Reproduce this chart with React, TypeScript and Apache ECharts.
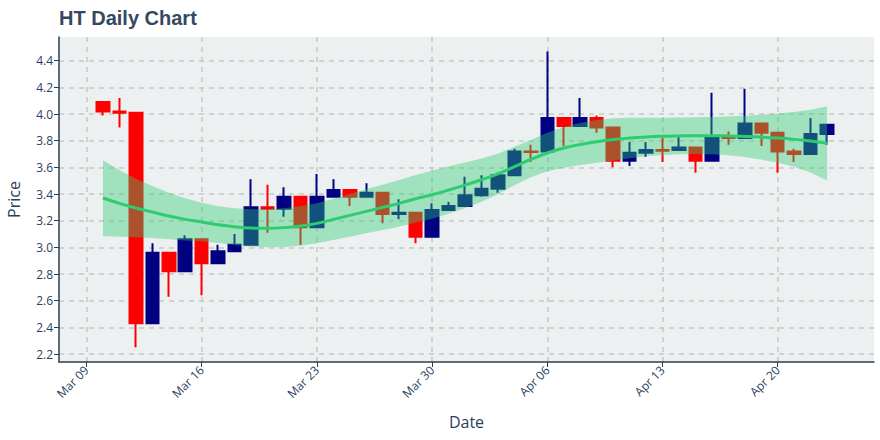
import React, { useEffect, useRef } from "react";
import * as echarts from "echarts";

const dates = [
  "2020-03-10", "2020-03-11", "2020-03-12", "2020-03-13", "2020-03-14", "2020-03-15", "2020-03-16",
  "2020-03-17", "2020-03-18", "2020-03-19", "2020-03-20", "2020-03-21", "2020-03-22", "2020-03-23",
  "2020-03-24", "2020-03-25", "2020-03-26", "2020-03-27", "2020-03-28", "2020-03-29", "2020-03-30",
  "2020-03-31", "2020-04-01", "2020-04-02", "2020-04-03", "2020-04-04", "2020-04-05", "2020-04-06",
  "2020-04-07", "2020-04-08", "2020-04-09", "2020-04-10", "2020-04-11", "2020-04-12", "2020-04-13",
  "2020-04-14", "2020-04-15", "2020-04-16", "2020-04-17", "2020-04-18", "2020-04-19", "2020-04-20",
  "2020-04-21", "2020-04-22", "2020-04-23",
];

const opens = [
  4.09, 4.02, 4.01, 2.43, 2.96, 2.82, 3.06, 2.88, 2.97, 3.02, 3.30, 3.29, 3.38, 3.15, 3.38,
  3.43, 3.38, 3.41, 3.25, 3.26, 3.08, 3.28, 3.31, 3.39, 3.44, 3.54, 3.72, 3.72, 3.97, 3.91,
  3.97, 3.90, 3.65, 3.71, 3.73, 3.73, 3.75, 3.65, 3.83, 3.82, 3.93, 3.86, 3.72, 3.70, 3.85,
];
const closes = [
  4.02, 4.01, 2.43, 2.96, 2.82, 3.06, 2.88, 2.97, 3.02, 3.30, 3.29, 3.38, 3.15, 3.38, 3.43,
  3.38, 3.41, 3.25, 3.26, 3.08, 3.28, 3.31, 3.39, 3.44, 3.54, 3.72, 3.715, 3.97, 3.91, 3.97,
  3.90, 3.65, 3.71, 3.73, 3.725, 3.75, 3.65, 3.83, 3.82, 3.93, 3.86, 3.72, 3.70, 3.85, 3.92,
];
const lows = [
  3.99, 3.90, 2.25, 2.43, 2.63, 2.82, 2.64, 2.88, 2.97, 3.02, 3.11, 3.23, 3.02, 3.15, 3.38,
  3.31, 3.38, 3.18, 3.21, 3.03, 3.08, 3.28, 3.31, 3.38, 3.41, 3.54, 3.64, 3.72, 3.76, 3.91,
  3.86, 3.60, 3.61, 3.68, 3.64, 3.73, 3.56, 3.65, 3.77, 3.82, 3.76, 3.56, 3.64, 3.70, 3.77,
];
const highs = [
  4.09, 4.12, 4.01, 3.03, 2.96, 3.09, 3.06, 3.02, 3.10, 3.51, 3.47, 3.45, 3.38, 3.55, 3.51,
  3.43, 3.48, 3.41, 3.36, 3.26, 3.33, 3.34, 3.53, 3.54, 3.56, 3.74, 3.77, 4.47, 3.97, 4.12,
  3.99, 3.90, 3.79, 3.79, 3.82, 3.83, 3.75, 4.16, 3.87, 4.19, 3.93, 3.86, 3.74, 3.97, 3.92,
];

const trend = [
  3.37, 3.33, 3.295, 3.265, 3.235, 3.21, 3.19, 3.17, 3.155, 3.145, 3.143, 3.148, 3.16, 3.18, 3.21,
  3.24, 3.27, 3.30, 3.33, 3.365, 3.395, 3.43, 3.467, 3.507, 3.552, 3.605, 3.66, 3.708, 3.745, 3.772,
  3.793, 3.809, 3.82, 3.828, 3.833, 3.836, 3.838, 3.838, 3.836, 3.832, 3.827, 3.82, 3.81, 3.797, 3.78,
];
const bandUpper = [
  3.654, 3.58, 3.515, 3.46, 3.41, 3.368, 3.335, 3.308, 3.293, 3.285, 3.285, 3.293, 3.308, 3.33, 3.365,
  3.40, 3.435, 3.47, 3.505, 3.543, 3.575, 3.608, 3.637, 3.667, 3.702, 3.755, 3.805, 3.86, 3.902, 3.933,
  3.955, 3.968, 3.972, 3.973, 3.973, 3.974, 3.976, 3.978, 3.981, 3.987, 3.995, 4.005, 4.015, 4.032, 4.058,
];
const bandLower = [
  3.086, 3.08, 3.075, 3.07, 3.06, 3.052, 3.045, 3.032, 3.017, 3.005, 3.001, 3.003, 3.012, 3.03, 3.055,
  3.08, 3.105, 3.13, 3.155, 3.187, 3.215, 3.252, 3.293, 3.343, 3.398, 3.465, 3.525, 3.57, 3.598, 3.617,
  3.635, 3.652, 3.668, 3.683, 3.693, 3.698, 3.70, 3.698, 3.691, 3.677, 3.659, 3.635, 3.605, 3.562, 3.502,
];

const xTickDates = ["2020-03-09", "2020-03-16", "2020-03-23", "2020-03-30", "2020-04-06", "2020-04-13", "2020-04-20"];
const yTicks = [2.2, 2.4, 2.6, 2.8, 3.0, 3.2, 3.4, 3.6, 3.8, 4.0, 4.2, 4.4];

const ORIGIN = Date.UTC(2020, 2, 9);
const DAY = 86400000;
const MONTHS = ["Jan", "Feb", "Mar", "Apr", "May", "Jun", "Jul", "Aug", "Sep", "Oct", "Nov", "Dec"];
const dayOf = (s: string) => (Date.parse(s + "T00:00:00Z") - ORIGIN) / DAY;
const fmtDay = (v: number) => {
  const d = new Date(ORIGIN + Math.round(v) * DAY);
  return MONTHS[d.getUTCMonth()] + " " + String(d.getUTCDate()).padStart(2, "0");
};

const TEXT = "#2a3f5f";
const FONT = "Open Sans";

export default function App() {
  const ref = useRef<HTMLDivElement>(null);
  useEffect(() => {
    if (!ref.current) return;
    const chart = echarts.init(ref.current, undefined, { renderer: "svg" });
    const xs = dates.map(dayOf);
    const candle = xs.map((x, i) => [x, opens[i], closes[i], lows[i], highs[i]]);
    const bandData = xs.map((x, i) => [x, bandLower[i], bandUpper[i]]);
    const trendData = xs.map((x, i) => [x, trend[i]]);
    const gridLine = { show: true, lineStyle: { color: "#c6c6c6", width: 1.5, type: [5, 5] as any } };
    chart.setOption({
      animation: false,
      backgroundColor: "#ffffff",
      title: {
        text: "HT Daily Chart",
        left: 54,
        top: 3,
        textStyle: { fontFamily: "Liberation Sans", fontWeight: "bold", fontSize: 20, color: "#34495e" },
      },
      grid: {
        left: 59,
        top: 37,
        right: 6,
        bottom: 78,
        show: true,
        backgroundColor: "#ecf0f1",
        borderWidth: 0,
        outerBoundsMode: "none",
        containLabel: false,
      },
      xAxis: {
        type: "value",
        min: -1.67,
        max: 47.85,
        name: "Date",
        nameLocation: "middle",
        nameGap: 52,
        nameTextStyle: { fontFamily: FONT, fontSize: 16, color: TEXT },
        axisLine: { show: true, onZero: false, lineStyle: { color: "#2c3e50", width: 1.5 } },
        axisTick: { show: true, length: 5, customValues: xTickDates.map(dayOf), lineStyle: { color: "#2c3e50" } },
        axisLabel: {
          customValues: xTickDates.map(dayOf),
          formatter: (v: number) => fmtDay(v),
          rotate: 45,
          fontFamily: FONT,
          fontSize: 12,
          color: TEXT,
          margin: 6,
        },
        splitLine: gridLine,
      },
      yAxis: {
        type: "value",
        min: 2.14,
        max: 4.578,
        name: "Price",
        nameLocation: "middle",
        nameGap: 37,
        nameTextStyle: { fontFamily: FONT, fontSize: 16, color: TEXT },
        axisLine: { show: true, onZero: false, lineStyle: { color: "#2c3e50", width: 1.5 } },
        axisTick: { show: true, length: 5, customValues: yTicks, lineStyle: { color: "#2c3e50" } },
        axisLabel: {
          customValues: yTicks,
          formatter: (v: number) => v.toFixed(1),
          fontFamily: FONT,
          fontSize: 12,
          color: TEXT,
          margin: 6,
        },
        splitLine: gridLine,
      },
      series: [
        {
          type: "candlestick",
          data: candle,
          barWidth: 13,
          itemStyle: {
            color: "#000080",
            color0: "#ff0000",
            borderColor: "#000080",
            borderColor0: "#ff0000",
            borderWidth: 2,
          },
          z: 2,
        },
        {
          type: "custom",
          data: bandData,
          encode: { x: 0, y: [1, 2] },
          z: 3,
          silent: true,
          renderItem: (params: any, api: any) => {
            if (params.dataIndex !== 0) return null;
            const top: number[][] = [];
            const bottom: number[][] = [];
            for (let i = 0; i < bandData.length; i++) {
              top.push(api.coord([bandData[i][0], bandData[i][2]]));
              bottom.push(api.coord([bandData[i][0], bandData[i][1]]));
            }
            const points = top.concat(bottom.reverse());
            return {
              type: "polygon",
              shape: { points, smooth: 0 },
              style: { fill: "rgba(46,204,113,0.4)", stroke: "none" },
            };
          },
        },
        {
          type: "line",
          data: trendData,
          smooth: 0.4,
          symbol: "none",
          lineStyle: { color: "#2ecc71", width: 3 },
          z: 4,
        },
      ],
    });
    return () => chart.dispose();
  }, []);
  return <div ref={ref} style={{ position: "fixed", left: 0, top: 0, width: 880, height: 440 }} />;
}
